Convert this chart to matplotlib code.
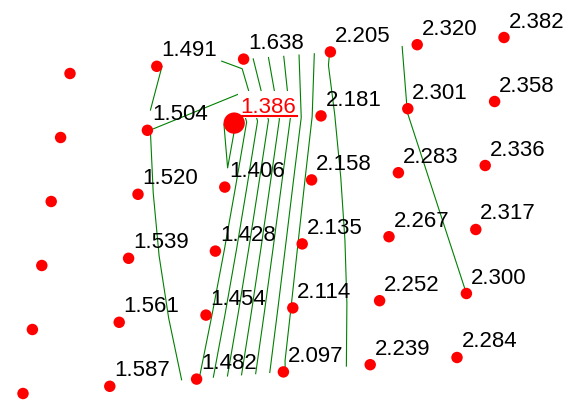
import numpy as np
import matplotlib
matplotlib.use("Agg")
import matplotlib.pyplot as plt
from matplotlib.transforms import Affine2D, IdentityTransform
from matplotlib.patches import Rectangle
from matplotlib.lines import Line2D

plt.rcParams['font.family'] = ['Liberation Sans', 'DejaVu Sans']

# Lattice of sampled settings: column index along one parameter, row index along the other
col_idx = [0, 1, 2, 3, 4, 5]
row_idx = [0, 1, 2, 3, 4, 5]

# Measured value per column (first column has no measurement)
col0 = [np.nan, np.nan, np.nan, np.nan, np.nan, np.nan]
col1 = [1.491, 1.504, 1.520, 1.539, 1.561, 1.587]
col2 = [1.638, 1.386, 1.406, 1.428, 1.454, 1.482]
col3 = [2.205, 2.181, 2.158, 2.135, 2.114, 2.097]
col4 = [2.320, 2.301, 2.283, 2.267, 2.252, 2.239]
col5 = [2.382, 2.358, 2.336, 2.317, 2.300, 2.284]

levels = [1.4, 1.5, 1.6, 1.7, 1.8, 1.9, 2.0, 2.1, 2.2, 2.3]

Z = np.column_stack([col0, col1, col2, col3, col4, col5])
C, R = np.meshgrid(col_idx, row_idx)

W, H = 574, 406
fig = plt.figure(figsize=(W / 100, H / 100), dpi=100)
ax = fig.add_axes([0, 0, 1, 1])
ax.set_xlim(0, W)
ax.set_ylim(H, 0)
ax.axis('off')

# skewed lattice -> canvas placement
grid = Affine2D().from_values(86.8, -7.2, -9.4, 64.0, 70.0, 74.5) + ax.transData

ax.contour(C, R, np.ma.masked_invalid(Z), levels=levels, colors='green',
           linewidths=0.8, transform=grid, zorder=1)

best = np.unravel_index(np.nanargmin(Z), Z.shape)
sizes = np.full(Z.shape, 68.0)
sizes[best] = 235.0
ax.scatter(C.ravel(), R.ravel(), s=sizes.ravel(), color='red', linewidths=0,
           transform=grid, zorder=3)

best_text = None
for r in range(Z.shape[0]):
    for c in range(Z.shape[1]):
        v = Z[r, c]
        if not np.isfinite(v):
            continue
        is_best = (r, c) == best
        t = ax.annotate(f"{v:.3f}", xy=(C[r, c], R[r, c]), xycoords=grid,
                        xytext=(6.5, 11) if is_best else (4.5, 11),
                        textcoords='offset pixels', ha='left', va='baseline',
                        fontsize=16, color='red' if is_best else 'black',
                        zorder=5)
        if is_best:
            best_text = t

# white backing and underline for the best value
fig.canvas.draw()
renderer = fig.canvas.get_renderer()
bb = best_text.get_window_extent(renderer)
px, py = grid.transform((C[best], R[best]))
base_y = py + 11
under_y = base_y - 4
ax.add_patch(Rectangle((bb.x0 - 3, under_y - 1.5), (bb.x1 + 1) - (bb.x0 - 3),
                       (bb.y1 + 5) - (under_y - 1.5), transform=IdentityTransform(),
                       facecolor='white', edgecolor='none', zorder=2))
ax.add_line(Line2D([bb.x0 + 1.5, bb.x1 + 1], [under_y, under_y],
                   transform=IdentityTransform(), color='red', linewidth=1.5,
                   zorder=5))

fig.savefig('out.png', dpi=100)
